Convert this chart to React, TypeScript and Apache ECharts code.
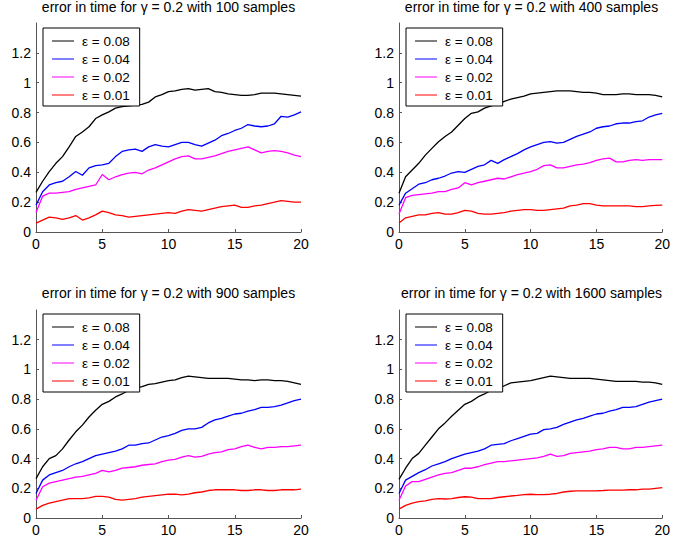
import React, { useEffect, useRef } from "react";
import * as echarts from "echarts";

const times = [0, 0.5, 1, 1.5, 2, 2.5, 3, 3.5, 4, 4.5, 5, 5.5, 6, 6.5, 7, 7.5, 8, 8.5, 9, 9.5, 10, 10.5, 11, 11.5, 12, 12.5, 13, 13.5, 14, 14.5, 15, 15.5, 16, 16.5, 17, 17.5, 18, 18.5, 19, 19.5, 20];

const legendNames = ["ε = 0.08", "ε = 0.04", "ε = 0.02", "ε = 0.01"];
const lineColors = ["#000000", "#0000ff", "#ff00ff", "#ff0000"];
const panelTitles = [
  "error in time for γ = 0.2 with 100 samples",
  "error in time for γ = 0.2 with 400 samples",
  "error in time for γ = 0.2 with 900 samples",
  "error in time for γ = 0.2 with 1600 samples",
];
const xTicks = [0, 5, 10, 15, 20];
const yTicks = [0, 0.2, 0.4, 0.6, 0.8, 1, 1.2];

// 100 samples
const s100e08 = [0.265, 0.34, 0.405, 0.46, 0.505, 0.57, 0.64, 0.67, 0.705, 0.76, 0.785, 0.805, 0.83, 0.84, 0.845, 0.85, 0.855, 0.87, 0.905, 0.92, 0.94, 0.945, 0.955, 0.96, 0.95, 0.955, 0.96, 0.94, 0.935, 0.925, 0.92, 0.915, 0.915, 0.92, 0.93, 0.93, 0.93, 0.925, 0.92, 0.915, 0.91];
const s100e04 = [0.18, 0.27, 0.315, 0.33, 0.34, 0.37, 0.405, 0.38, 0.43, 0.445, 0.45, 0.46, 0.505, 0.54, 0.55, 0.555, 0.54, 0.57, 0.585, 0.575, 0.57, 0.585, 0.6, 0.6, 0.585, 0.575, 0.595, 0.615, 0.645, 0.66, 0.68, 0.695, 0.72, 0.71, 0.705, 0.71, 0.725, 0.775, 0.77, 0.785, 0.805];
const s100e02 = [0.13, 0.24, 0.26, 0.26, 0.265, 0.27, 0.285, 0.295, 0.305, 0.315, 0.385, 0.35, 0.37, 0.385, 0.395, 0.4, 0.39, 0.415, 0.43, 0.45, 0.47, 0.49, 0.505, 0.51, 0.49, 0.49, 0.5, 0.51, 0.525, 0.54, 0.55, 0.56, 0.57, 0.55, 0.53, 0.54, 0.545, 0.54, 0.53, 0.515, 0.505];
const s100e01 = [0.06, 0.08, 0.1, 0.095, 0.085, 0.095, 0.11, 0.08, 0.095, 0.115, 0.14, 0.13, 0.115, 0.11, 0.1, 0.105, 0.11, 0.115, 0.12, 0.125, 0.13, 0.125, 0.14, 0.15, 0.145, 0.14, 0.15, 0.16, 0.17, 0.175, 0.18, 0.165, 0.165, 0.175, 0.18, 0.19, 0.2, 0.21, 0.205, 0.2, 0.2];

// 400 samples
const s400e08 = [0.26, 0.37, 0.415, 0.46, 0.515, 0.56, 0.605, 0.64, 0.67, 0.715, 0.76, 0.795, 0.805, 0.83, 0.845, 0.855, 0.875, 0.89, 0.9, 0.91, 0.925, 0.93, 0.935, 0.94, 0.945, 0.945, 0.945, 0.94, 0.935, 0.935, 0.93, 0.92, 0.92, 0.92, 0.925, 0.925, 0.92, 0.92, 0.92, 0.915, 0.905];
const s400e04 = [0.18, 0.26, 0.29, 0.32, 0.33, 0.35, 0.36, 0.375, 0.395, 0.405, 0.4, 0.42, 0.44, 0.45, 0.48, 0.46, 0.485, 0.505, 0.525, 0.55, 0.57, 0.585, 0.6, 0.605, 0.595, 0.6, 0.62, 0.64, 0.655, 0.67, 0.695, 0.705, 0.71, 0.725, 0.73, 0.73, 0.74, 0.745, 0.77, 0.785, 0.795];
const s400e02 = [0.12, 0.23, 0.245, 0.25, 0.255, 0.26, 0.27, 0.27, 0.285, 0.295, 0.33, 0.315, 0.33, 0.34, 0.35, 0.36, 0.355, 0.37, 0.385, 0.395, 0.405, 0.42, 0.445, 0.45, 0.43, 0.43, 0.44, 0.45, 0.455, 0.465, 0.48, 0.49, 0.495, 0.47, 0.47, 0.48, 0.485, 0.48, 0.485, 0.485, 0.485];
const s400e01 = [0.06, 0.095, 0.105, 0.115, 0.115, 0.125, 0.13, 0.12, 0.12, 0.13, 0.145, 0.14, 0.125, 0.12, 0.12, 0.125, 0.13, 0.14, 0.145, 0.15, 0.15, 0.145, 0.145, 0.15, 0.155, 0.16, 0.175, 0.18, 0.19, 0.19, 0.18, 0.175, 0.175, 0.175, 0.175, 0.175, 0.17, 0.17, 0.175, 0.178, 0.18];

// 900 samples
const s900e08 = [0.265, 0.345, 0.4, 0.42, 0.465, 0.525, 0.58, 0.625, 0.68, 0.725, 0.765, 0.785, 0.815, 0.835, 0.86, 0.875, 0.885, 0.9, 0.905, 0.915, 0.925, 0.93, 0.945, 0.955, 0.95, 0.945, 0.94, 0.94, 0.94, 0.94, 0.935, 0.93, 0.93, 0.925, 0.93, 0.93, 0.925, 0.925, 0.92, 0.91, 0.9];
const s900e04 = [0.165, 0.255, 0.29, 0.305, 0.32, 0.345, 0.365, 0.38, 0.4, 0.42, 0.43, 0.44, 0.45, 0.465, 0.49, 0.49, 0.5, 0.505, 0.525, 0.545, 0.555, 0.57, 0.59, 0.6, 0.6, 0.61, 0.64, 0.66, 0.67, 0.685, 0.7, 0.705, 0.72, 0.73, 0.745, 0.745, 0.75, 0.76, 0.775, 0.79, 0.8];
const s900e02 = [0.12, 0.21, 0.235, 0.245, 0.255, 0.265, 0.275, 0.28, 0.29, 0.3, 0.32, 0.31, 0.32, 0.335, 0.34, 0.345, 0.355, 0.36, 0.365, 0.38, 0.39, 0.395, 0.41, 0.42, 0.41, 0.415, 0.43, 0.44, 0.445, 0.46, 0.465, 0.48, 0.49, 0.475, 0.465, 0.475, 0.475, 0.48, 0.48, 0.485, 0.49];
const s900e01 = [0.06, 0.085, 0.1, 0.11, 0.12, 0.13, 0.13, 0.13, 0.135, 0.145, 0.145, 0.14, 0.125, 0.12, 0.125, 0.13, 0.14, 0.145, 0.15, 0.155, 0.16, 0.16, 0.155, 0.16, 0.17, 0.175, 0.185, 0.19, 0.19, 0.19, 0.19, 0.185, 0.185, 0.19, 0.19, 0.185, 0.185, 0.19, 0.19, 0.19, 0.195];

// 1600 samples
const s1600e08 = [0.26, 0.335, 0.4, 0.435, 0.49, 0.545, 0.6, 0.64, 0.685, 0.725, 0.765, 0.785, 0.815, 0.835, 0.86, 0.875, 0.89, 0.91, 0.915, 0.92, 0.925, 0.935, 0.945, 0.955, 0.95, 0.945, 0.94, 0.94, 0.94, 0.94, 0.935, 0.93, 0.925, 0.92, 0.92, 0.92, 0.92, 0.915, 0.915, 0.91, 0.9];
const s1600e04 = [0.165, 0.255, 0.28, 0.305, 0.325, 0.35, 0.365, 0.38, 0.4, 0.415, 0.43, 0.44, 0.45, 0.465, 0.49, 0.495, 0.5, 0.52, 0.535, 0.55, 0.565, 0.57, 0.595, 0.6, 0.61, 0.63, 0.645, 0.66, 0.67, 0.685, 0.7, 0.705, 0.72, 0.73, 0.745, 0.745, 0.75, 0.765, 0.78, 0.79, 0.8];
const s1600e02 = [0.12, 0.215, 0.245, 0.245, 0.26, 0.275, 0.29, 0.3, 0.305, 0.32, 0.335, 0.335, 0.345, 0.36, 0.37, 0.38, 0.38, 0.385, 0.39, 0.395, 0.4, 0.405, 0.415, 0.43, 0.415, 0.42, 0.435, 0.44, 0.445, 0.45, 0.46, 0.465, 0.475, 0.475, 0.465, 0.465, 0.475, 0.475, 0.48, 0.485, 0.49];
const s1600e01 = [0.06, 0.085, 0.1, 0.11, 0.115, 0.125, 0.13, 0.128, 0.13, 0.138, 0.143, 0.14, 0.13, 0.13, 0.13, 0.138, 0.143, 0.148, 0.152, 0.157, 0.16, 0.157, 0.157, 0.16, 0.165, 0.175, 0.18, 0.183, 0.183, 0.183, 0.183, 0.185, 0.188, 0.188, 0.188, 0.19, 0.19, 0.195, 0.195, 0.2, 0.205];

const panelSeries = [
  [s100e08, s100e04, s100e02, s100e01],
  [s400e08, s400e04, s400e02, s400e01],
  [s900e08, s900e04, s900e02, s900e01],
  [s1600e08, s1600e04, s1600e02, s1600e01],
];

const FONT = "'Liberation Sans', Arial, Helvetica, sans-serif";

// layout (pixels)
const gridBoxes = [
  { left: 36, top: 23, width: 265, height: 209 },
  { left: 399, top: 23, width: 265, height: 209 },
  { left: 36, top: 310, width: 265, height: 208 },
  { left: 399, top: 310, width: 265, height: 208 },
];
const titleTops = [0, 0, 286, 286];
const legendBoxes = [
  { left: 43, top: 28 },
  { left: 406, top: 28 },
  { left: 43, top: 314 },
  { left: 406, top: 314 },
];

export default function App() {
  const ref = useRef<HTMLDivElement>(null);

  useEffect(() => {
    if (!ref.current) return;
    const chart = echarts.init(ref.current, undefined, { renderer: "svg" });

    const grid = gridBoxes.map((g) => ({ ...g, containLabel: false }));
    const title = panelTitles.map((t, i) => ({
      text: t,
      left: gridBoxes[i].left + gridBoxes[i].width / 2,
      top: titleTops[i],
      textAlign: "center",
      padding: 0,
      textStyle: { fontFamily: FONT, fontSize: 14, fontWeight: "normal", color: "#000" },
    }));
    const xAxis = gridBoxes.map((_, i) => ({
      type: "value",
      gridIndex: i,
      min: xTicks[0],
      max: xTicks[xTicks.length - 1],
      interval: 5,
      axisLine: { show: true, lineStyle: { color: "#555", width: 1 } },
      axisTick: { show: true, inside: true, length: 3, lineStyle: { color: "#555" } },
      axisLabel: { color: "#000", fontFamily: FONT, fontSize: 14, margin: 5 },
      splitLine: { show: false },
    }));
    const yAxis = gridBoxes.map((_, i) => ({
      type: "value",
      gridIndex: i,
      min: 0,
      max: 1.4,
      interval: 0.2,
      axisLine: { show: true, lineStyle: { color: "#555", width: 1 } },
      axisTick: { show: true, inside: true, length: 3, lineStyle: { color: "#555" } },
      axisLabel: {
        color: "#000",
        fontFamily: FONT,
        fontSize: 14,
        margin: 5,
        showMaxLabel: false,
        formatter: (v: number) => {
          const r = Math.round(v * 10) / 10;
          return yTicks.some((t) => Math.abs(t - r) < 1e-9) ? String(r) : "";
        },
      },
      splitLine: { show: false },
    }));
    const series: any[] = [];
    panelSeries.forEach((group, gi) => {
      group.forEach((vals, si) => {
        series.push({
          type: "line",
          name: legendNames[si],
          xAxisIndex: gi,
          yAxisIndex: gi,
          data: vals.map((v, k) => [times[k], v]),
          showSymbol: false,
          symbol: "none",
          lineStyle: { color: lineColors[si], width: 1.3 },
          itemStyle: { color: lineColors[si] },
          silent: true,
          z: 2,
        });
      });
    });
    const legend = legendBoxes.map((lb) => ({
      left: lb.left,
      top: lb.top,
      orient: "vertical",
      data: legendNames,
      icon: "rect",
      itemWidth: 22,
      itemHeight: 1,
      itemGap: 4,
      padding: [6, 10, 4, 9],
      borderColor: "#000",
      borderWidth: 1,
      backgroundColor: "#fff",
      selectedMode: false,
      textStyle: { fontFamily: FONT, fontSize: 13.5, lineHeight: 14, color: "#000", padding: [0, 0, 0, 3] },
      z: 10,
    }));

    chart.setOption({
      animation: false,
      backgroundColor: "#fff",
      title,
      grid,
      xAxis,
      yAxis,
      legend,
      series,
    });
    return () => chart.dispose();
  }, []);

  return (
    <div
      ref={ref}
      style={{ position: "fixed", left: 0, top: 0, width: 673, height: 545, background: "#fff" }}
    />
  );
}
